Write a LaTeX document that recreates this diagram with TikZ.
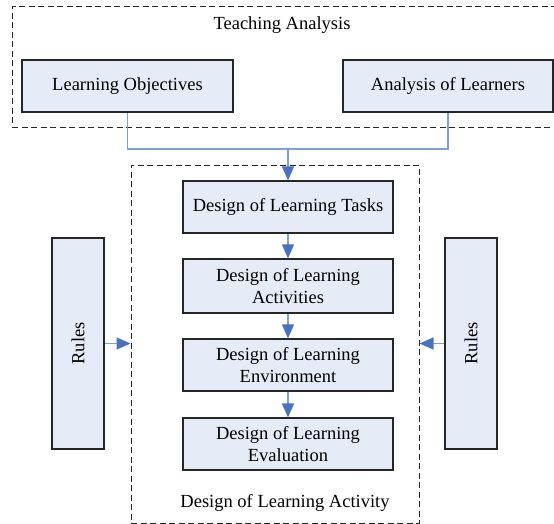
\documentclass[tikz,border=0pt]{standalone}
\usepackage{fontspec}
\setmainfont{Liberation Serif}
\usetikzlibrary{arrows.meta}
\definecolor{boxfill}{RGB}{230,236,247}
\definecolor{linkblue}{RGB}{126,158,212}
\definecolor{tipblue}{RGB}{70,114,196}
\tikzset{
  designbox/.style={draw=black!85, line width=1.2pt, fill=boxfill, align=center,
    minimum width=210pt, minimum height=52pt, inner sep=0pt},
  rulesbox/.style={designbox, minimum width=52pt, minimum height=211pt},
  groupbox/.style={draw=black!85, line width=1pt, dash pattern=on 6pt off 3.5pt, inner sep=0pt},
  link/.style={draw=linkblue, line width=1.4pt},
  linkarrow/.style={link, -{Triangle[length=14pt,width=12pt,color=tipblue]}}
}
\begin{document}
\begin{tikzpicture}[x=1pt,y=-1pt,font=\fontsize{18.5}{22}\selectfont]
\useasboundingbox (0,0) rectangle (554,524);
% Teaching Analysis
\node[groupbox, minimum width=554pt, minimum height=121pt] (teaching) at (289,67.5) {};
\node (teachinglabel) at (282,25) {Teaching Analysis};
\node[designbox, minimum width=211pt] (objectives) at (127.5,86) {Learning Objectives};
\node[designbox] (learners) at (448,86) {Analysis of Learners};
% Design of Learning Activity
\node[groupbox, minimum width=288pt, minimum height=358pt] (activity) at (275,344) {};
\node (activitylabel) at (285,503) {Design of Learning Activity};
\node[designbox] (tasks) at (288,207) {Design of Learning Tasks};
\node[designbox, minimum height=54pt] (activities) at (288,286) {Design of Learning\\Activities};
\node[designbox] (environment) at (288,365) {Design of Learning\\Environment};
\node[designbox] (evaluation) at (288,444) {Design of Learning\\Evaluation};
% Rules
\node[rulesbox] (rulesleft) at (78,343.5) {\rotatebox{90}{Rules}};
\node[rulesbox] (rulesright) at (471,343.5) {\rotatebox{90}{Rules}};
% Verbindungen
\coordinate (join) at (288,149);
\draw[link] (objectives.south) |- (join);
\draw[link] (learners.south) |- (join);
\draw[linkarrow] (join) -- (tasks.north);
\draw[linkarrow] (tasks) -- (activities);
\draw[linkarrow] (activities) -- (environment);
\draw[linkarrow] (environment) -- (evaluation);
\draw[linkarrow] (rulesleft) -- (activity.west |- rulesleft);
\draw[linkarrow] (rulesright) -- (activity.east |- rulesright);
\end{tikzpicture}
\end{document}
